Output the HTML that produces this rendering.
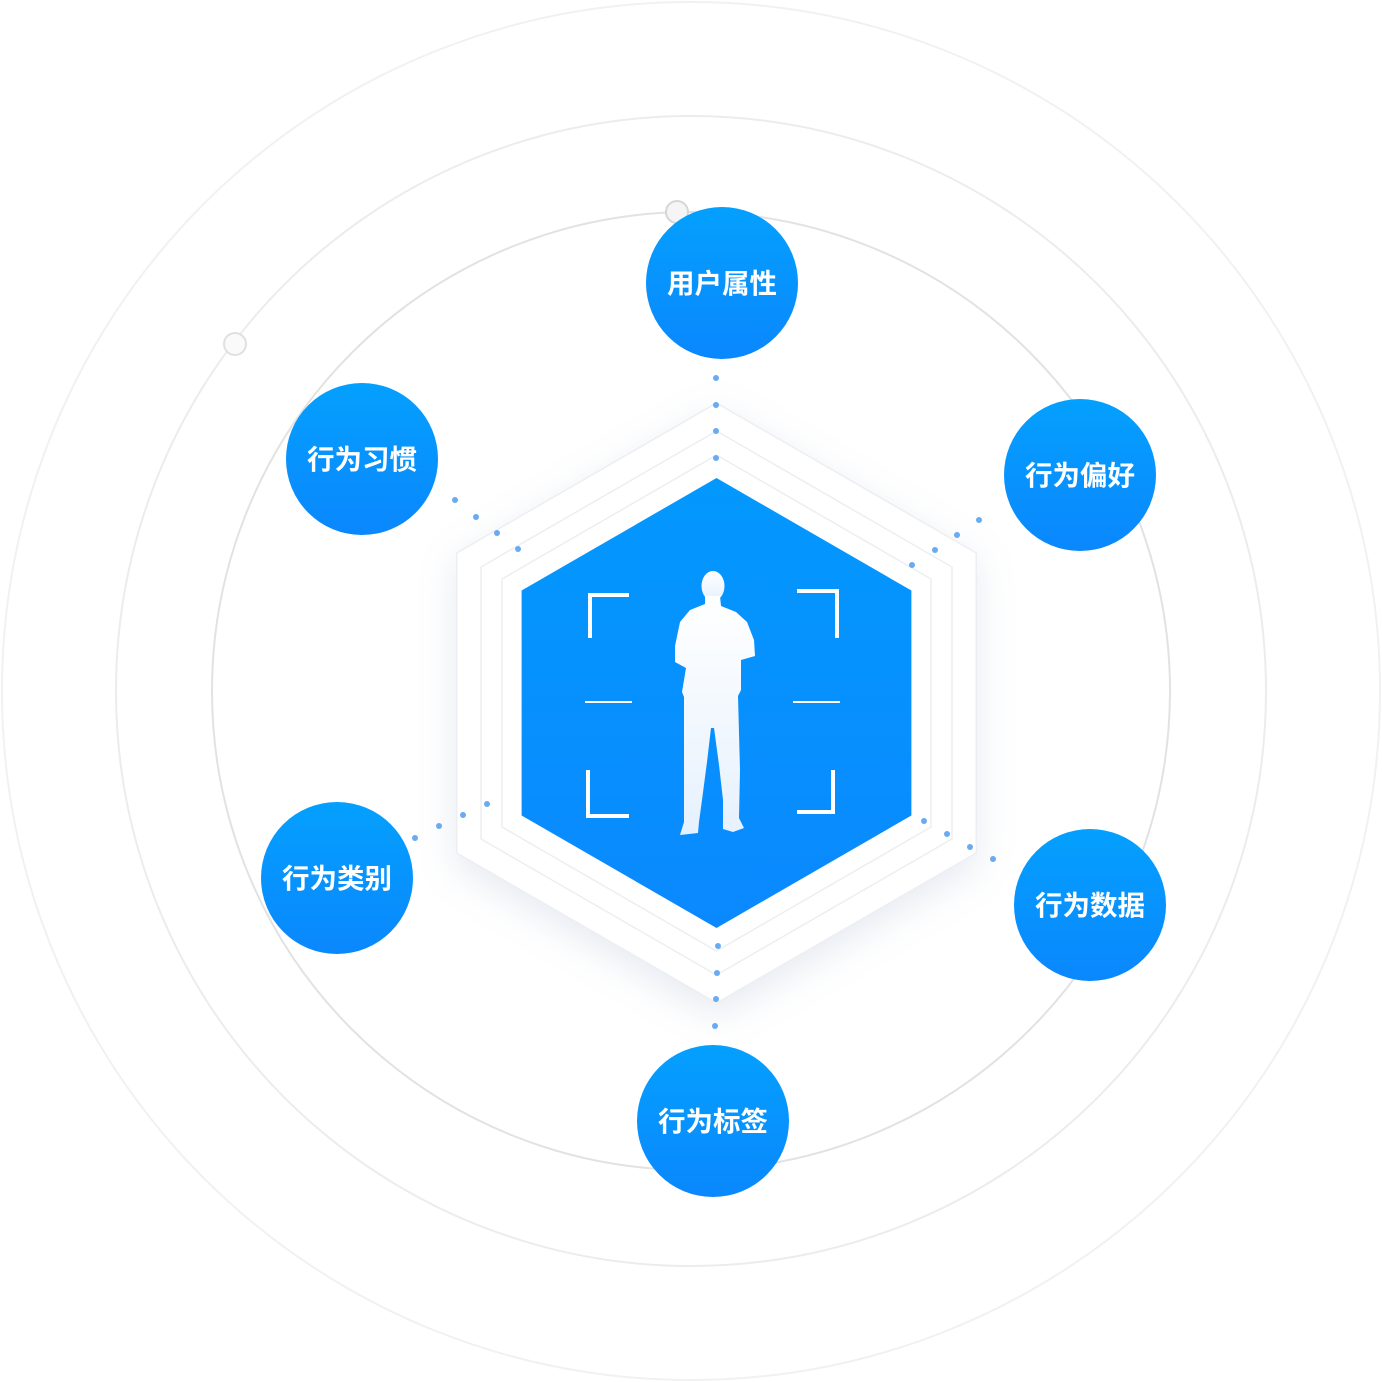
<!DOCTYPE html>
<html><head><meta charset="utf-8"><style>
html,body{margin:0;padding:0;background:#fff;}
svg{display:block;}
text{font-family:"Liberation Sans","Noto Sans CJK SC",sans-serif;font-weight:bold;}
</style></head><body>
<svg width="1382" height="1382" viewBox="0 0 1382 1382" xmlns="http://www.w3.org/2000/svg">
<defs>
<linearGradient id="hg" x1="0" y1="0" x2="0" y2="1"><stop offset="0" stop-color="#0398fe"/><stop offset="1" stop-color="#0a89fe"/></linearGradient>
<linearGradient id="cg" x1="0" y1="0" x2="0" y2="1"><stop offset="0" stop-color="#04a0fe"/><stop offset="1" stop-color="#0a87fd"/></linearGradient>
<linearGradient id="pg" x1="0" y1="0" x2="0" y2="1"><stop offset="0" stop-color="#ffffff"/><stop offset="1" stop-color="#e6f1fe"/></linearGradient>
<filter id="sh" x="-30%" y="-30%" width="160%" height="160%"><feDropShadow dx="0" dy="12" stdDeviation="18" flood-color="#8fa3c0" flood-opacity="0.22"/></filter>
</defs>
<circle cx="691" cy="691" r="689" fill="none" stroke="#f1f1f1" stroke-width="2"/>
<circle cx="691" cy="691" r="575" fill="none" stroke="#ececec" stroke-width="2"/>
<circle cx="691" cy="691" r="479" fill="none" stroke="#e2e2e2" stroke-width="2"/>
<circle cx="677" cy="212" r="11" fill="#f5f5f5" stroke="#d6d6d6" stroke-width="2"/>
<circle cx="235" cy="344" r="11" fill="#fafafa" stroke="#e0e0e0" stroke-width="2"/>

<polygon points="716.5,403 976.3,553 976.3,853 716.5,1003 456.7,853 456.7,553" fill="#fff" stroke="#eceef2" stroke-width="1.5" filter="url(#sh)"/>
<polygon points="716.5,431 952,567 952,839 716.5,975 481,839 481,567" fill="#fff" stroke="#eceef2" stroke-width="1.5"/>
<polygon points="716.5,455 931,579 931,827 716.5,951 502,827 502,579" fill="#fff" stroke="#eceef2" stroke-width="1.5"/>
<polygon points="716.5,478 911.4,590.5 911.4,815.5 716.5,928 521.6,815.5 521.6,590.5" fill="url(#hg)"/>

<g fill="#fff">
<rect x="588" y="593" width="4" height="45"/><rect x="588" y="593" width="41" height="4"/>
<rect x="797" y="589" width="42" height="4"/><rect x="835" y="589" width="4" height="49"/>
<rect x="586" y="770" width="4" height="48"/><rect x="586" y="814" width="43" height="4"/>
<rect x="831" y="770" width="4" height="44"/><rect x="797" y="810" width="38" height="4"/>
<rect x="585" y="701" width="47" height="2"/><rect x="793" y="701" width="47" height="2"/>
</g>
<g fill="url(#pg)">
<ellipse cx="713" cy="586" rx="11.5" ry="15"/>
<path d="M705,596 L720,596 L721,606 L736,612 L747,622 L754,640 L755,656 L741,660 L741,690 L738,696 L740,770 L739,818 L744,828 L733,832 L723,829 L723,800 L719,765 L714,728 L711,728 L707,762 L702,800 L699,822 L698,833 L680,835 L684,822 L684,770 L684,697 L682,692 L686,668 L675,662 L675,646 L680,622 L690,610 L705,604 Z"/>
</g>

<g fill="#6aaaf0">
<circle cx="716" cy="378" r="3"/><circle cx="716" cy="405" r="3"/><circle cx="716" cy="431" r="3"/><circle cx="716" cy="458" r="3"/>
<circle cx="718" cy="946" r="3"/><circle cx="717" cy="973" r="3"/><circle cx="716" cy="999" r="3"/><circle cx="715" cy="1026" r="3"/>
<circle cx="455" cy="500" r="3"/><circle cx="476" cy="517" r="3"/><circle cx="497" cy="533" r="3"/><circle cx="518" cy="549" r="3"/>
<circle cx="912" cy="565" r="3"/><circle cx="935" cy="550" r="3"/><circle cx="957" cy="535" r="3"/><circle cx="979" cy="520" r="3"/>
<circle cx="415" cy="838" r="3"/><circle cx="439" cy="826" r="3"/><circle cx="463" cy="815" r="3"/><circle cx="487" cy="804" r="3"/>
<circle cx="924" cy="821" r="3"/><circle cx="947" cy="834" r="3"/><circle cx="970" cy="847" r="3"/><circle cx="993" cy="859" r="3"/>
</g>

<g>
<circle cx="722" cy="283" r="76" fill="url(#cg)"/>
<circle cx="362" cy="459" r="76" fill="url(#cg)"/>
<circle cx="1080" cy="475" r="76" fill="url(#cg)"/>
<circle cx="337" cy="878" r="76" fill="url(#cg)"/>
<circle cx="1090" cy="905" r="76" fill="url(#cg)"/>
<circle cx="713" cy="1121" r="76" fill="url(#cg)"/>
</g>
<g fill="#fff" font-size="27.5" text-anchor="middle">
<text x="722" y="293">用户属性</text>
<text x="362" y="469">行为习惯</text>
<text x="1080" y="485">行为偏好</text>
<text x="337" y="888">行为类别</text>
<text x="1090" y="915">行为数据</text>
<text x="713" y="1131">行为标签</text>
</g>
</svg>
</body></html>
